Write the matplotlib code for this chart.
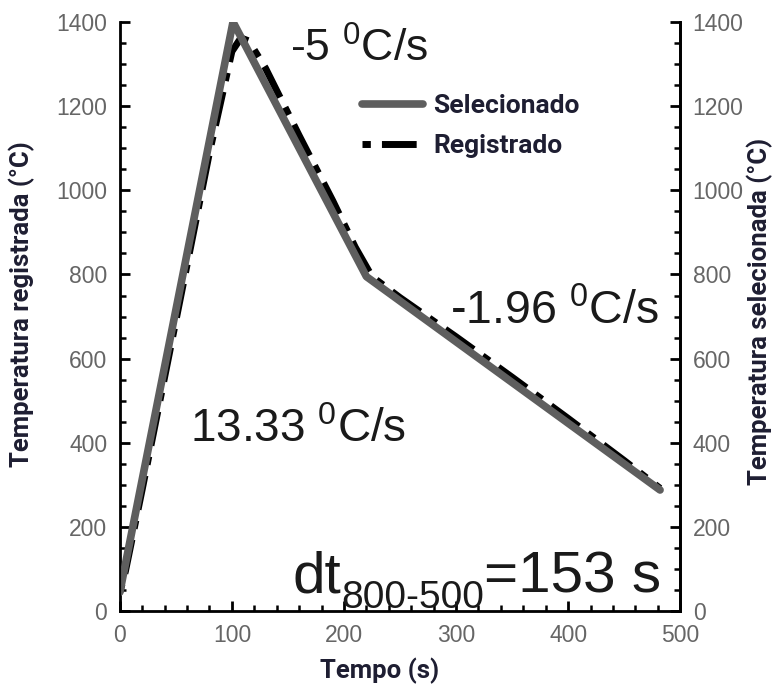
import matplotlib
matplotlib.use("Agg")
import matplotlib.pyplot as plt
from matplotlib.ticker import MultipleLocator
from matplotlib.transforms import offset_copy

plt.rcParams["mathtext.fontset"] = "custom"
plt.rcParams["mathtext.rm"] = "Liberation Sans"
plt.rcParams["mathtext.default"] = "regular"

# data
t_sel = [0, 101, 220, 482]
T_sel = [45, 1400, 795, 288]

t_reg = [0, 5, 20, 50, 80, 100, 108, 115, 130, 160, 190, 210, 225, 250, 300, 350, 400, 450, 482]
T_reg = [45, 95, 290, 690, 1090, 1330, 1362, 1355, 1290, 1130, 975, 865, 795, 745, 652, 556, 458, 358, 292]

labels = ["Selecionado", "Registrado"]
x_ticks = [0, 100, 200, 300, 400, 500]
y_ticks = [0, 200, 400, 600, 800, 1000, 1200, 1400]

lab_color = "#1e1e32"
tick_color = "#666666"

fig = plt.figure(figsize=(7.73, 6.86), dpi=100)
ax = fig.add_axes([0.155, 0.109, 0.725, 0.859])

ax.plot(t_reg, T_reg, color="black", lw=5, dashes=(1.2, 1.6, 5, 1.6), zorder=2, label=labels[1])
ax.plot(t_sel, T_sel, color="#5e5e5e", lw=5.5, zorder=3, label=labels[0], solid_capstyle="round")

ax.set_xlim(0, 500); ax.set_ylim(0, 1400)
ax.set_xticks(x_ticks); ax.set_yticks(y_ticks)
ax.xaxis.set_minor_locator(MultipleLocator(20))
ax.yaxis.set_minor_locator(MultipleLocator(50))
ax.spines["top"].set_visible(False)
for s in ["left", "bottom", "right"]:
    ax.spines[s].set_linewidth(2)
ax.tick_params(which="major", direction="in", length=7, width=2, labelsize=16.5,
               labelcolor=tick_color, pad=9)
ax.tick_params(which="minor", direction="in", length=4.5, width=1.8)
for lbl in ax.get_xticklabels() + ax.get_yticklabels():
    lbl.set_family("Liberation Sans")

ax2 = ax.twinx()
ax2.set_ylim(0, 1400); ax2.set_yticks(y_ticks)
ax2.yaxis.set_minor_locator(MultipleLocator(50))
ax2.spines["top"].set_visible(False)
ax2.spines["right"].set_linewidth(2)
ax2.tick_params(which="major", direction="in", length=7, width=2, labelsize=16.5,
                labelcolor=tick_color, pad=9)
ax2.tick_params(which="minor", direction="in", length=4.5, width=1.8)
for lbl in ax2.get_yticklabels():
    lbl.set_family("Liberation Sans")

lab_font = dict(family="Roboto", weight="bold", size=18.5, color=lab_color)
ax.set_xlabel("Tempo (s)", **lab_font)
ax.set_ylabel("Temperatura registrada (°C)", **lab_font)
ax2.set_ylabel("Temperatura selecionada (°C)", **lab_font)
ax.xaxis.set_label_coords(0.464, -0.078)
ax.yaxis.set_label_coords(-0.152, 0.521)
ax2.yaxis.set_label_coords(1.118, 0.509)

h, l = ax.get_legend_handles_labels()
leg = ax.legend(h[::-1], l[::-1], loc="upper left", bbox_to_anchor=(0.39, 0.918), frameon=False,
                handlelength=2.3, handletextpad=0.4, labelspacing=0.6,
                prop=dict(family="Roboto", weight="bold", size=19))
for txt in leg.get_texts():
    txt.set_color(lab_color)

ann = dict(va="baseline", ha="left", color="#1a1a1a", family="Liberation Sans")
ax.text(0.304, 0.932, "-5 $^{0}$C/s", fontsize=32, transform=ax.transAxes, **ann)
ax.text(0.125, 0.287, "13.33 $^{0}$C/s", fontsize=33, transform=ax.transAxes, **ann)
ax.text(0.589, 0.486, "-1.96 $^{0}$C/s", fontsize=33.5, transform=ax.transAxes, **ann)

# dt_{800-500}=153 s built from three pieces so the subscript can sit lower
r = fig.canvas.get_renderer()
t1 = ax.text(0.308, 0.032, "dt", fontsize=42, transform=ax.transAxes, **ann)
w1 = t1.get_window_extent(r).width
t2 = ax.text(0.308, 0.032, "800-500", fontsize=28,
             transform=offset_copy(ax.transAxes, fig, x=w1, y=-16, units="dots"), **ann)
w2 = t2.get_window_extent(r).width
ax.text(0.308, 0.032, "=153 s", fontsize=42,
        transform=offset_copy(ax.transAxes, fig, x=w1 + w2, y=0, units="dots"), **ann)

fig.savefig("out.png", dpi=100)
